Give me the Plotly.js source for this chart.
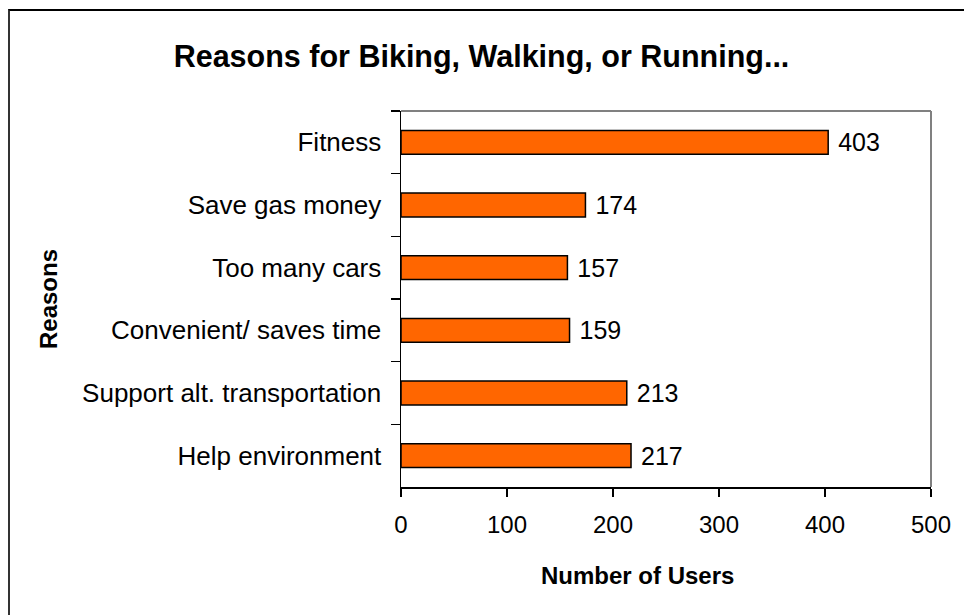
<!DOCTYPE html>
<html>
<head>
<meta charset="utf-8">
<script src="https://cdn.plot.ly/plotly-3.0.1.min.js"></script>
<style>
html,body{margin:0;padding:0;background:#fff;}
#wrap{position:relative;width:964px;height:615px;overflow:hidden;}
#chart{position:absolute;left:0;top:0;width:964px;height:615px;}
#frame{position:absolute;left:8px;top:9px;width:1000px;height:700px;border-left:2px solid #333;border-top:2px solid #000;pointer-events:none;}
</style>
</head>
<body>
<div id="wrap"><div id="chart"></div><div id="frame"></div></div>
<script>
const categories = ["Fitness", "Save gas money", "Too many cars", "Convenient/ saves time", "Support alt. transportation", "Help environment"];
const users = [403, 174, 157, 159, 213, 217];
const xTicks = [0, 100, 200, 300, 400, 500];

const FONT = "Liberation Sans, Arial, sans-serif";

const trace = {
  type: "bar",
  orientation: "h",
  y: categories,
  x: users,
  width: 0.38,
  marker: {color: "#FF6600", line: {color: "#000000", width: 1.5}},
  text: users.map(v => String(v)),
  texttemplate: " %{text}",
  textposition: "outside",
  constraintext: "none",
  cliponaxis: false,
  textfont: {family: FONT, size: 25, color: "#000"},
  hoverinfo: "none"
};

const layout = {
  width: 964, height: 615,
  margin: {l: 401, r: 33, t: 111, b: 128},
  paper_bgcolor: "#fff", plot_bgcolor: "#fff",
  showlegend: false,
  font: {family: FONT, color: "#000"},
  title: {
    text: "<b>Reasons for Biking, Walking, or Running...</b>",
    font: {family: FONT, size: 30.5, color: "#000"},
    xref: "container", x: 0.4995, xanchor: "center",
    yref: "container", y: 1 - 56/615, yanchor: "middle"
  },
  xaxis: {
    range: [0, 500],
    tickvals: xTicks,
    ticktext: xTicks.map(String),
    ticks: "outside", ticklen: 8, tickwidth: 1.5, tickcolor: "#000",
    showline: true, linecolor: "#000", linewidth: 1.5,
    showgrid: false, zeroline: false,
    tickfont: {family: FONT, size: 24, color: "#000"},
    ticklabelstandoff: 8,
    fixedrange: true
  },
  yaxis: {
    type: "category",
    autorange: "reversed",
    tickson: "boundaries",
    ticks: "outside", ticklen: 9, tickwidth: 1.5, tickcolor: "#000",
    showline: true, linecolor: "#000", linewidth: 1.5,
    showgrid: false, zeroline: false,
    tickfont: {family: FONT, size: 26, color: "#000"},
    ticklabelstandoff: 13,
    fixedrange: true
  },
  shapes: [
    {type: "line", xref: "paper", yref: "paper", x0: 0, x1: 1, y0: 1, y1: 1, line: {color: "#808080", width: 2}},
    {type: "line", xref: "paper", yref: "paper", x0: 1, x1: 1, y0: 0, y1: 1, line: {color: "#808080", width: 2}}
  ],
  annotations: [
    {text: "<b>Number of Users</b>", xref: "paper", yref: "paper", x: (637-401)/530, y: -(575-487)/376,
     xanchor: "center", yanchor: "middle", showarrow: false, font: {family: FONT, size: 24, color: "#000"}},
    {text: "<b>Reasons</b>", xref: "paper", yref: "paper", x: -(401-48)/530, y: 0.5, textangle: -90,
     xanchor: "center", yanchor: "middle", showarrow: false, font: {family: FONT, size: 24, color: "#000"}}
  ]
};

Plotly.newPlot("chart", [trace], layout, {displayModeBar: false, staticPlot: true});
</script>
</body>
</html>
